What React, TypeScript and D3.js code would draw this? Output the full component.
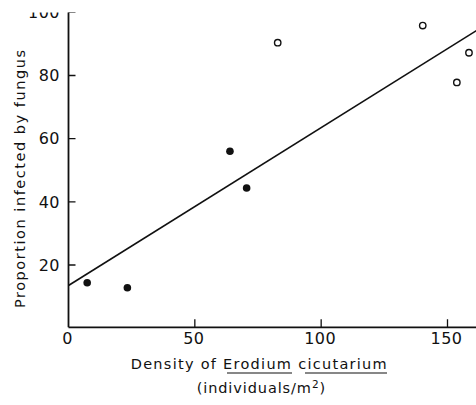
import React from "react";
import * as d3 from "d3";

const filledX = [7.4, 23.3, 63.9, 70.5];
const filledY = [14.4, 12.8, 56.0, 44.4];
const openX = [82.8, 140.2, 158.5, 153.7];
const openY = [90.4, 95.8, 87.2, 77.8];
const xTicks = [0, 50, 100, 150];
const yTicks = [20, 40, 60, 80, 100];
const fitIntercept = 13.5;
const fitSlope = 0.5;

const W = 476;
const H = 405;
const FONT = "'DejaVu Sans', 'Liberation Sans', sans-serif";

export default function App() {
  const x = d3.scaleLinear().domain([0, 150]).range([68.5, 447.5]);
  const y = d3.scaleLinear().domain([20, 80]).range([265, 75.5]);
  const x0 = x(0);
  const y0 = y(0) - 0.8;
  const fitXs = [0, x.invert(W + 5)];
  const line = d3
    .line<number>()
    .x((d) => x(d))
    .y((d) => y(fitIntercept + fitSlope * d));

  return (
    <div style={{ position: "fixed", left: 0, top: 0, background: "#fff" }}>
      <svg width={W} height={H} style={{ display: "block", background: "#fff" }}>
        <defs>
          <clipPath id="topclip">
            <rect x={0} y={12.5} width={W} height={H - 12.5} />
          </clipPath>
        </defs>
        <rect width={W} height={H} fill="#fff" />
        <g clipPath="url(#topclip)" fill="none" stroke="#111">
          {/* axes */}
          <line x1={x0} x2={x0} y1={12} y2={y0} strokeWidth={1.8} />
          <line x1={x0} x2={W} y1={y0} y2={y0} strokeWidth={1.8} />
          {xTicks.filter((t) => t > 0).map((t) => (
            <line key={"xt" + t} x1={x(t)} x2={x(t)} y1={y0} y2={y0 - 8} strokeWidth={1.3} />
          ))}
          {yTicks.map((t) => (
            <line key={"yt" + t} x1={x0} x2={x0 + 7} y1={y(t)} y2={y(t)} strokeWidth={1.3} />
          ))}
          {/* regression line */}
          <path d={line(fitXs) || ""} strokeWidth={1.6} />
          {/* points */}
          {filledX.map((v, i) => (
            <circle key={"f" + i} cx={x(v)} cy={y(filledY[i])} r={3.8} fill="#111" stroke="none" />
          ))}
          {openX.map((v, i) => (
            <circle key={"o" + i} cx={x(v)} cy={y(openY[i])} r={3.2} fill="#fff" stroke="#111" strokeWidth={1.4} />
          ))}
          {/* y tick labels */}
          {yTicks.map((t) => (
            <text
              key={"yl" + t}
              x={60}
              y={y(t)}
              dy="0.36em"
              textAnchor="end"
              fontFamily={FONT}
              fontSize={16}
              fill="#111"
              stroke="none"
              letterSpacing={0.5}
            >
              {t}
            </text>
          ))}
        </g>
        {/* x tick labels */}
        {xTicks.map((t) => (
          <text
            key={"xl" + t}
            x={x(t) - 1}
            y={338}
            dy="0.36em"
            textAnchor="middle"
            fontFamily={FONT}
            fontSize={16}
            fill="#111"
            letterSpacing={0.5}
          >
            {t}
          </text>
        ))}
        {/* x axis title */}
        <text
          x={130.7}
          y={369}
          fontFamily={FONT}
          fontSize={14.5}
          fill="#111"
          textLength={256}
          lengthAdjust="spacing"
        >
          Density of Erodium cicutarium
        </text>
        <line x1={227} x2={292} y1={373} y2={373} stroke="#111" strokeWidth={1.2} />
        <line x1={305} x2={387} y1={373} y2={373} stroke="#111" strokeWidth={1.2} />
        <text x={196.7} y={393} fontFamily={FONT} fontSize={14.5} fill="#111" letterSpacing={0.9}>
          (individuals/m
          <tspan fontSize={10.5} dy={-5.5}>2</tspan>
          <tspan dy={5.5}>)</tspan>
        </text>
        {/* y axis title */}
        <text
          transform={`translate(25, ${308}) rotate(-90)`}
          x={0}
          y={0}
          fontFamily={FONT}
          fontSize={14.5}
          fill="#111"
          textLength={258}
          lengthAdjust="spacing"
        >
          Proportion infected by fungus
        </text>
      </svg>
    </div>
  );
}
